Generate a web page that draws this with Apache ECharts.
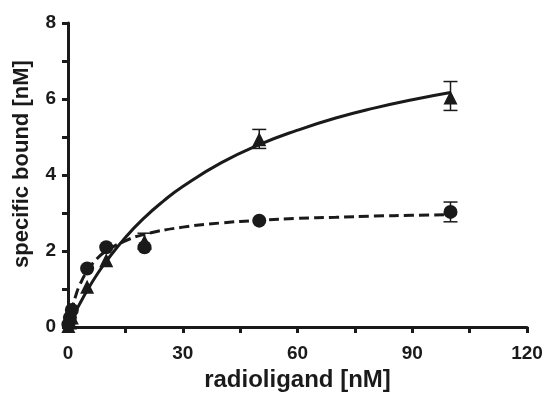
<!DOCTYPE html>
<html>
<head>
<meta charset="utf-8">
<script src="https://cdn.jsdelivr.net/npm/echarts@6/dist/echarts.min.js"></script>
<style>
  html, body { margin: 0; padding: 0; background: #fff; }
  #chart { width: 547px; height: 397px; }
</style>
</head>
<body>
<div id="chart"></div>
<script>
// measured points (radioligand nM, specific bound nM)
const triX = [0.1, 0.5, 1, 5, 10, 20, 50, 100];
const triY = [0.03, 0.12, 0.25, 1.06, 1.76, 2.25, 4.94, 6.04];
const circX = [0.1, 0.5, 1, 5, 10, 20, 50, 100];
const circY = [0.07, 0.25, 0.45, 1.54, 2.1, 2.1, 2.8, 3.03];

// error bars [x, low, high]
const triErr = [[20, 2.05, 2.47], [50, 4.7, 5.2], [100, 5.7, 6.46]];
const circErr = [[100, 2.77, 3.29]];

// fitted curves
const solidX = [0, 1, 2, 3, 5, 7.5, 10, 15, 20, 25, 30, 40, 50, 60, 70, 80, 90, 100];
const solidY = [0, 0.21, 0.41, 0.6, 0.96, 1.37, 1.73, 2.36, 2.88, 3.32, 3.7, 4.32, 4.8, 5.18, 5.5, 5.76, 5.98, 6.17];
const dashX = [0, 0.5, 1, 2, 3, 5, 7.5, 10, 15, 20, 30, 40, 50, 60, 70, 80, 90, 100];
const dashY = [0, 0.26, 0.47, 0.82, 1.09, 1.47, 1.79, 2.0, 2.27, 2.44, 2.63, 2.74, 2.81, 2.86, 2.89, 2.92, 2.94, 2.96];

const ink = "#1a1a1a";
const zip = (xs, ys) => xs.map((x, i) => [x, ys[i]]);

const chart = echarts.init(document.getElementById("chart"));

const errSeries = (data) => ({
  type: "custom",
  data: data,
  z: 5,
  renderItem: (params, api) => {
    const x = api.value(0);
    const lo = api.coord([x, api.value(1)]);
    const hi = api.coord([x, api.value(2)]);
    const w = 7;
    const st = { stroke: ink, lineWidth: 1.5 };
    return {
      type: "group",
      children: [
        { type: "line", shape: { x1: lo[0], y1: lo[1], x2: hi[0], y2: hi[1] }, style: st },
        { type: "line", shape: { x1: lo[0] - w, y1: lo[1], x2: lo[0] + w, y2: lo[1] }, style: st },
        { type: "line", shape: { x1: hi[0] - w, y1: hi[1], x2: hi[0] + w, y2: hi[1] }, style: st },
      ],
    };
  },
});

const axisText = { color: ink, fontFamily: "Liberation Sans", fontWeight: "bold", fontSize: 19 };

chart.setOption({
  animation: false,
  grid: { left: 68, right: 20, top: 23, bottom: 67 },
  xAxis: {
    type: "value",
    min: 0,
    max: 120,
    interval: 30,
    name: "radioligand [nM]",
    nameLocation: "middle",
    nameGap: 37,
    nameTextStyle: { color: ink, fontFamily: "Liberation Sans", fontWeight: "bold", fontSize: 24 },
    axisLine: { onZero: false, lineStyle: { color: ink, width: 3 } },
    axisTick: { length: 6, lineStyle: { width: 3 } },
    minorTick: { show: true, splitNumber: 2, length: 6, lineStyle: { color: ink, width: 3 } },
    axisLabel: Object.assign({ margin: 17 }, axisText),
    splitLine: { show: false },
  },
  yAxis: {
    type: "value",
    min: 0,
    max: 8,
    interval: 2,
    name: "specific bound [nM]",
    nameLocation: "middle",
    nameGap: 35,
    nameTextStyle: {
      color: ink, fontFamily: "Liberation Sans", fontWeight: "bold", fontSize: 22,
      padding: [0, 0, 0, 22],
    },
    axisLine: { show: true, lineStyle: { color: ink, width: 3 } },
    axisTick: { show: true, length: 6, lineStyle: { width: 3 } },
    minorTick: { show: true, splitNumber: 2, length: 6, lineStyle: { color: ink, width: 3 } },
    axisLabel: Object.assign({ margin: 12 }, axisText),
    splitLine: { show: false },
  },
  series: [
    {
      type: "line",
      data: zip(solidX, solidY),
      smooth: true,
      symbol: "none",
      lineStyle: { color: ink, width: 3 },
      z: 3,
    },
    {
      type: "line",
      data: zip(dashX, dashY),
      smooth: true,
      symbol: "none",
      lineStyle: { color: ink, width: 3, type: [10, 5] },
      z: 3,
    },
    errSeries(triErr),
    errSeries(circErr),
    {
      type: "scatter",
      data: zip(triX, triY),
      symbol: "triangle",
      symbolSize: 14,
      itemStyle: { color: ink, opacity: 1 },
      z: 6,
    },
    {
      type: "scatter",
      data: zip(circX, circY),
      symbol: "circle",
      symbolSize: 14,
      itemStyle: { color: ink, opacity: 1 },
      z: 6,
    },
  ],
});
</script>
</body>
</html>
